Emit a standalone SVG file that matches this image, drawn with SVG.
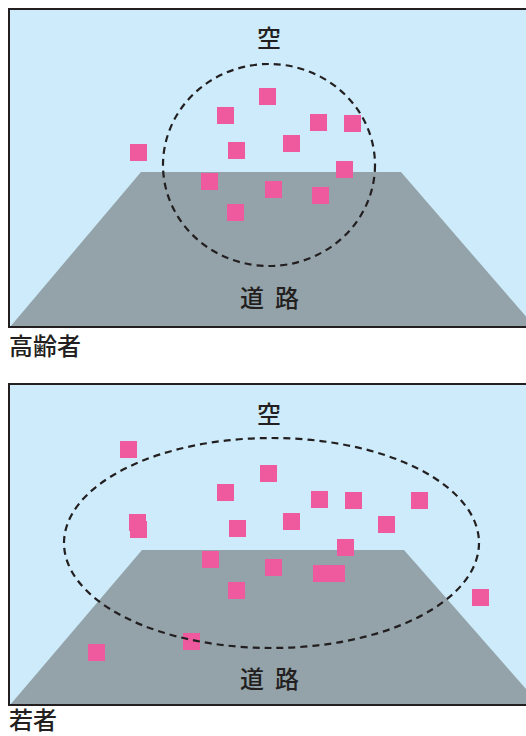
<svg xmlns="http://www.w3.org/2000/svg" width="526" height="736" viewBox="0 0 526 736">
<style>
.sky{fill:#cdebfa;stroke:#231f20;stroke-width:2}
.road{fill:#93a3a9}
.sq{fill:#ef5a9f}
.ring{fill:none;stroke:#231f20;stroke-width:2.2;stroke-dasharray:7 5}
.lbl{font-family:"Noto Sans CJK JP","Noto Sans CJK SC",sans-serif;font-size:24px;font-weight:500;fill:#231f20}
.cap{font-family:"Noto Sans CJK JP","Noto Sans CJK SC",sans-serif;font-size:24px;font-weight:500;fill:#231f20}
</style>
<defs><rect id="s" width="17" height="17" class="sq"/></defs>
<g id="elderly">
<rect x="9" y="9" width="540" height="318" class="sky"/>
<polygon points="141,172 401,172 535,327 10,327" class="road"/>
<rect x="9" y="9" width="540" height="318" fill="none" stroke="#231f20" stroke-width="2"/>
<text x="269" y="47" text-anchor="middle" class="lbl">空</text>
<text x="240" y="307" class="lbl" letter-spacing="11">道路</text>
<g>
<use href="#s" x="259" y="88"/>
<use href="#s" x="217" y="107"/>
<use href="#s" x="310" y="114"/>
<use href="#s" x="344" y="115"/>
<use href="#s" x="228" y="142"/>
<use href="#s" x="283" y="135"/>
<use href="#s" x="130" y="144"/>
<use href="#s" x="336" y="161"/>
<use href="#s" x="201" y="173"/>
<use href="#s" x="265" y="181"/>
<use href="#s" x="312" y="187"/>
<use href="#s" x="227" y="204"/>
</g>
<ellipse cx="269" cy="165" rx="106" ry="101" class="ring"/>
<text x="9" y="355" class="cap">高齢者</text>
</g>
<g id="young">
<rect x="9" y="384" width="540" height="321" class="sky"/>
<polygon points="142,550 404,550 540,705 10,705" class="road"/>
<rect x="9" y="384" width="540" height="321" fill="none" stroke="#231f20" stroke-width="2"/>
<text x="269" y="423" text-anchor="middle" class="lbl">空</text>
<text x="240" y="688" class="lbl" letter-spacing="11">道路</text>
<g>
<use href="#s" x="120" y="441"/>
<use href="#s" x="260" y="465"/>
<use href="#s" x="217" y="484"/>
<use href="#s" x="311" y="491"/>
<use href="#s" x="345" y="492"/>
<use href="#s" x="411" y="492"/>
<use href="#s" x="129" y="514"/>
<use href="#s" x="130" y="521"/>
<use href="#s" x="229" y="520"/>
<use href="#s" x="283" y="513"/>
<use href="#s" x="378" y="516"/>
<use href="#s" x="337" y="539"/>
<use href="#s" x="202" y="551"/>
<use href="#s" x="265" y="559"/>
<use href="#s" x="313" y="565"/>
<use href="#s" x="328" y="565"/>
<use href="#s" x="228" y="582"/>
<use href="#s" x="472" y="589"/>
<use href="#s" x="183" y="633"/>
<use href="#s" x="88" y="644"/>
</g>
<ellipse cx="271.5" cy="543" rx="207.5" ry="105" class="ring"/>
<text x="9" y="729" class="cap">若者</text>
</g>
</svg>
